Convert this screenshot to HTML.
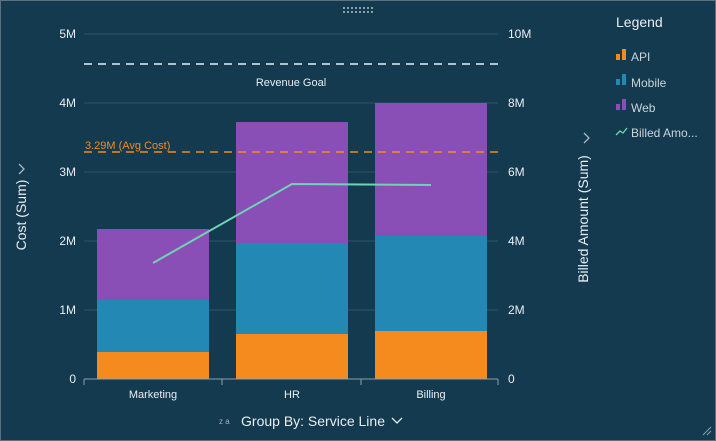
<!DOCTYPE html><html><head><style>html,body{margin:0;background:#143a4f;overflow:hidden}svg{display:block}</style></head><body>
<svg width="716" height="441" xmlns="http://www.w3.org/2000/svg" font-family="Liberation Sans, sans-serif">
<rect x="0.5" y="0.5" width="715" height="440" fill="#143a4f" stroke="#5a7180"/>
<g stroke="#2e5468" stroke-width="1">
<line x1="84" y1="34" x2="498" y2="34"/><line x1="84" y1="103" x2="498" y2="103"/><line x1="84" y1="172" x2="498" y2="172"/><line x1="84" y1="241" x2="498" y2="241"/><line x1="84" y1="310" x2="498" y2="310"/></g>
<g fill="#e8eef2" font-size="12" text-anchor="end">
<text x="76" y="38">5M</text><text x="76" y="107">4M</text><text x="76" y="176">3M</text><text x="76" y="245">2M</text><text x="76" y="314">1M</text><text x="76" y="383">0</text></g>
<g fill="#e8eef2" font-size="12">
<text x="508" y="38">10M</text><text x="508" y="107">8M</text><text x="508" y="176">6M</text><text x="508" y="245">4M</text><text x="508" y="314">2M</text><text x="508" y="383">0</text></g>
<rect x="97" y="352" width="112" height="27" fill="#f58b1f"/><rect x="97" y="300" width="112" height="52" fill="#2389b4"/><rect x="97" y="229" width="112" height="71" fill="#8a4fb7"/>
<rect x="236" y="334" width="112" height="45" fill="#f58b1f"/><rect x="236" y="243" width="112" height="91" fill="#2389b4"/><rect x="236" y="122" width="112" height="121" fill="#8a4fb7"/>
<rect x="375" y="331" width="112" height="48" fill="#f58b1f"/><rect x="375" y="236" width="112" height="95" fill="#2389b4"/><rect x="375" y="103" width="112" height="133" fill="#8a4fb7"/>
<line x1="84" y1="379" x2="498" y2="379" stroke="#8aa0ad"/>
<g stroke="#8aa0ad"><line x1="84" y1="379" x2="84" y2="385"/><line x1="222" y1="379" x2="222" y2="385"/><line x1="361" y1="379" x2="361" y2="385"/><line x1="498" y1="379" x2="498" y2="385"/></g>
<polyline points="153,263 292,184 431,185" fill="none" stroke="#6fd3b4" stroke-width="2"/>
<line x1="84" y1="64" x2="498" y2="64" stroke="#e8eef2" stroke-width="1.5" stroke-dasharray="8,6"/>
<text x="291" y="86" fill="#e8eef2" font-size="11" text-anchor="middle">Revenue Goal</text>
<line x1="84" y1="152" x2="498" y2="152" stroke="#f58b1f" stroke-width="1.5" stroke-dasharray="8,6"/>
<text x="85" y="149" fill="#f58b1f" font-size="11">3.29M (Avg Cost)</text>
<g fill="#e8eef2" font-size="11" text-anchor="middle"><text x="153" y="398">Marketing</text><text x="292" y="398">HR</text><text x="431" y="398">Billing</text></g>
<text x="313" y="426" fill="#e8eef2" font-size="14" text-anchor="middle">Group By: Service Line</text>
<text x="219" y="424" fill="#aab" font-size="8">z a</text>
<path d="M392 418 l5 5 l5 -5" fill="none" stroke="#e8eef2" stroke-width="1.3"/>
<text transform="translate(26,215) rotate(-90)" fill="#e8eef2" font-size="14" text-anchor="middle">Cost (Sum)</text>
<path d="M19 164 l5 5 l-5 5" fill="none" stroke="#aab8c2" stroke-width="1.3"/>
<text transform="translate(588,219) rotate(-90)" fill="#e8eef2" font-size="14" text-anchor="middle">Billed Amount (Sum)</text>
<path d="M584 133 l5 5 l-5 5" fill="none" stroke="#aab8c2" stroke-width="1.3"/>
<text x="616" y="27" fill="#e8eef2" font-size="14">Legend</text>
<g font-size="12" fill="#c8d3da">
<rect x="616" y="54" width="4" height="6" fill="#f58b1f"/><rect x="622" y="49" width="4" height="11" fill="#f58b1f"/><text x="631" y="61">API</text>
<rect x="616" y="79" width="4" height="6" fill="#2389b4"/><rect x="622" y="74" width="4" height="11" fill="#2389b4"/><text x="631" y="87">Mobile</text>
<rect x="616" y="104" width="4" height="6" fill="#8a4fb7"/><rect x="622" y="99" width="4" height="11" fill="#8a4fb7"/><text x="631" y="112">Web</text>
<polyline points="616,135 620,131 623,133 627,128" fill="none" stroke="#6fd3b4" stroke-width="1.3"/><text x="631" y="137">Billed Amo...</text></g>
<g fill="#8aa0ad"><rect x="343" y="7" width="2" height="2"/><rect x="347" y="7" width="2" height="2"/><rect x="351" y="7" width="2" height="2"/><rect x="355" y="7" width="2" height="2"/><rect x="359" y="7" width="2" height="2"/><rect x="363" y="7" width="2" height="2"/><rect x="367" y="7" width="2" height="2"/><rect x="371" y="7" width="2" height="2"/>
<rect x="343" y="11" width="2" height="2"/><rect x="347" y="11" width="2" height="2"/><rect x="351" y="11" width="2" height="2"/><rect x="355" y="11" width="2" height="2"/><rect x="359" y="11" width="2" height="2"/><rect x="363" y="11" width="2" height="2"/><rect x="367" y="11" width="2" height="2"/><rect x="371" y="11" width="2" height="2"/></g>
<path d="M703 435 l8 -8 M707 435 l4 -4" stroke="#8aa0ad"/>
</svg></body></html>
